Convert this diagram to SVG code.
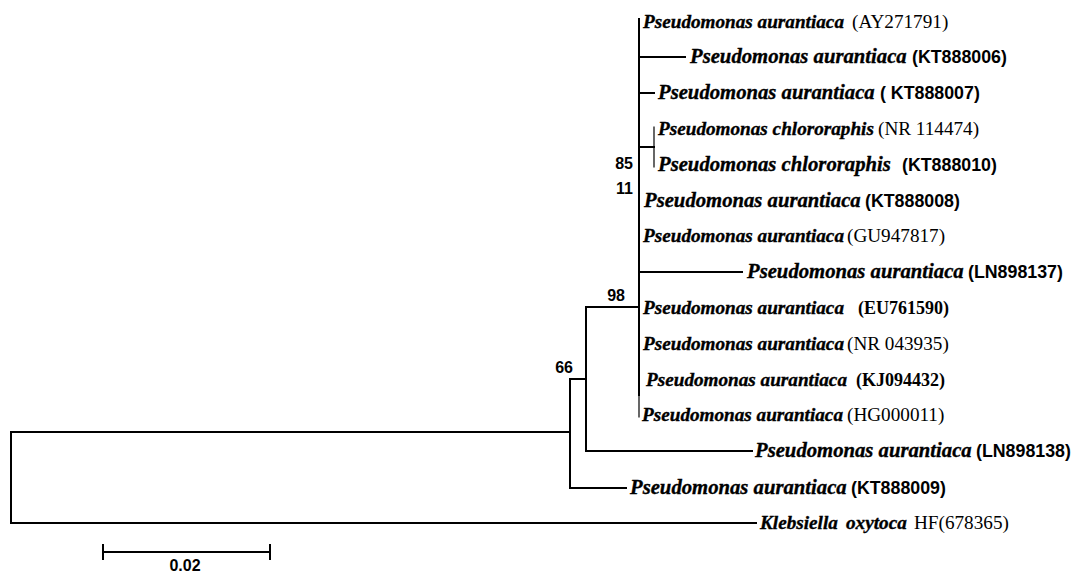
<svg xmlns="http://www.w3.org/2000/svg" width="1082" height="575" viewBox="0 0 1082 575">
<style>
.bg{fill:#fff}
.br{stroke:#000;stroke-width:2;fill:none;stroke-linecap:square}
.thin{stroke-width:1.2}
text{fill:#000}
.sp{font-family:"Liberation Serif",serif;font-style:italic;font-weight:bold;stroke:#000;stroke-width:0.35}
.s1{font-size:19.2px}
.s2{font-size:20.7px}
.as{font-family:"Liberation Sans",Arial,sans-serif;font-weight:bold;font-style:normal;font-size:17.8px;stroke:none}
.ar{font-family:"Liberation Serif",serif;font-weight:normal;font-style:normal;font-size:19.2px;stroke:none}
.ab{font-family:"Liberation Serif",serif;font-weight:bold;font-style:normal;font-size:18px;stroke:none}
.boot{font-family:"Liberation Sans",Arial,sans-serif;font-weight:bold;font-size:16px}
.scale{font-family:"Liberation Sans",Arial,sans-serif;font-weight:bold;font-size:16px}
</style>
<rect class="bg" x="0" y="0" width="1082" height="575"/>
<g id="connectors">
  <path class="br" d="M639,19 V395"/>
  <path class="br thin" d="M639,395 V417"/>
  <path class="br" d="M639,57 H685"/>
  <path class="br" d="M639,93 H654"/>
  <path class="br" d="M639,147 H654"/>
  <path class="br thin" d="M654,127 V167"/>
  <path class="br" d="M639,272 H742"/>
  <path class="br" d="M586,307 H639"/>
  <path class="br" d="M586,307 V451 H752"/>
  <path class="br" d="M570,379 H586"/>
  <path class="br" d="M570,379 V488 H626"/>
  <path class="br" d="M11,432 H570"/>
  <path class="br" d="M11,432 V523 H756"/>
</g>
<g id="bootstrap">
  <text class="boot" x="633" y="169" text-anchor="end">85</text>
  <text class="boot" x="633" y="194" text-anchor="end">11</text>
  <text class="boot" x="625" y="301" text-anchor="end">98</text>
  <text class="boot" x="573" y="373" text-anchor="end">66</text>
</g>
<g id="leaf-AY271791"><text x="643" y="28"><tspan class="sp s1">Pseudomonas aurantiaca</tspan><tspan class="ar" x="852">(AY271791)</tspan></text></g>
<g id="leaf-KT888006"><text x="690" y="63"><tspan class="sp s2">Pseudomonas aurantiaca</tspan><tspan class="as" x="912">(KT888006)</tspan></text></g>
<g id="leaf-KT888007"><text x="658" y="99"><tspan class="sp s2">Pseudomonas aurantiaca</tspan><tspan class="as" x="880">( KT888007)</tspan></text></g>
<g id="leaf-NR114474"><text x="658" y="135"><tspan class="sp s1">Pseudomonas chlororaphis</tspan><tspan class="ar" x="878">(NR 114474)</tspan></text></g>
<g id="leaf-KT888010"><text x="658" y="171"><tspan class="sp s2">Pseudomonas chlororaphis</tspan><tspan class="as" x="902">(KT888010)</tspan></text></g>
<g id="leaf-KT888008"><text x="644" y="207"><tspan class="sp s2">Pseudomonas aurantiaca</tspan><tspan class="as" x="865">(KT888008)</tspan></text></g>
<g id="leaf-GU947817"><text x="643" y="242"><tspan class="sp s1">Pseudomonas aurantiaca</tspan><tspan class="ar" x="847">(GU947817)</tspan></text></g>
<g id="leaf-LN898137"><text x="747" y="278"><tspan class="sp s2">Pseudomonas aurantiaca</tspan><tspan class="as" x="968">(LN898137)</tspan></text></g>
<g id="leaf-EU761590"><text x="643" y="314"><tspan class="sp s1">Pseudomonas aurantiaca</tspan><tspan class="ab" x="858">(EU761590)</tspan></text></g>
<g id="leaf-NR043935"><text x="643" y="350"><tspan class="sp s1">Pseudomonas aurantiaca</tspan><tspan class="ar" x="847">(NR 043935)</tspan></text></g>
<g id="leaf-KJ094432"><text x="646" y="386"><tspan class="sp s1">Pseudomonas aurantiaca</tspan><tspan class="ab" x="856">(KJ094432)</tspan></text></g>
<g id="leaf-HG000011"><text x="642" y="421"><tspan class="sp s1">Pseudomonas aurantiaca</tspan><tspan class="ar" x="847">(HG000011)</tspan></text></g>
<g id="leaf-LN898138"><text x="755" y="457"><tspan class="sp s2">Pseudomonas aurantiaca</tspan><tspan class="as" x="976">(LN898138)</tspan></text></g>
<g id="leaf-KT888009"><text x="630" y="494"><tspan class="sp s2">Pseudomonas aurantiaca</tspan><tspan class="as" x="851">(KT888009)</tspan></text></g>
<g id="leaf-HF678365"><text x="760" y="529"><tspan class="sp s1">Klebsiella</tspan><tspan class="sp s1" x="846">oxytoca</tspan><tspan class="ar" x="914">HF(678365)</tspan></text></g>
<g id="scale-bar">
  <path class="br" d="M103,552 H270 M103,545 V559 M270,545 V559"/>
  <text class="scale" x="185" y="571" text-anchor="middle">0.02</text>
</g>
</svg>
